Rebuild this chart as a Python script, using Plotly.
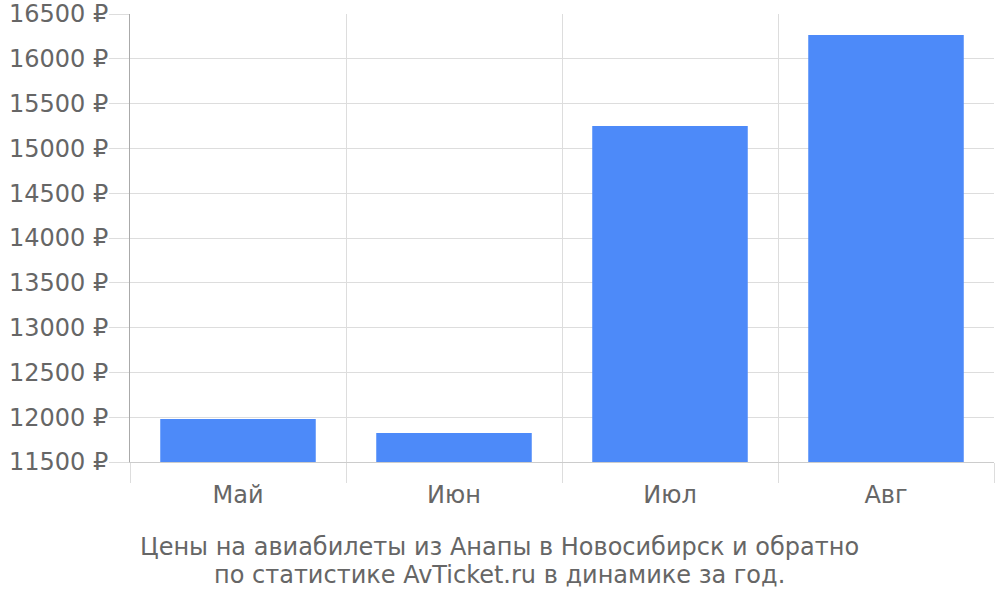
import plotly.graph_objects as go

months = ["Май", "Июн", "Июл", "Авг"]
prices = [11980, 11825, 15250, 16265]
tick_vals = [11500, 12000, 12500, 13000, 13500, 14000, 14500, 15000, 15500, 16000, 16500]
tick_text = [f"{v} ₽" for v in tick_vals]
title_lines = ["Цены на авиабилеты из Анапы в Новосибирск и обратно",
               "по статистике AvTicket.ru в динамике за год."]

FS = 24
fig = go.Figure()
fig.add_trace(go.Bar(x=months, y=prices, marker=dict(color="#4d8af9", line=dict(width=0)),
                     width=0.72))

fig.update_layout(
    width=1000, height=600,
    margin=dict(l=130, r=6, t=14, b=138),
    plot_bgcolor="white", paper_bgcolor="white",
    font=dict(family="DejaVu Sans", size=FS, color="#666666"),
    showlegend=False,
    bargap=0.28,
)
fig.update_yaxes(
    range=[11500, 16500.5], tickvals=tick_vals, ticktext=tick_text,
    showgrid=True, gridcolor="#dddddd", gridwidth=1,
    ticks="outside", ticklen=20, tickcolor="#dddddd",
    showline=True, linecolor="#aaaaaa", linewidth=1,
    zeroline=False, tickfont=dict(size=FS, color="#666666"),
    automargin=False, ticklabelstandoff=-4, ticklabeloverflow="allow",
)
fig.update_xaxes(
    tickson="boundaries", showgrid=True, gridcolor="#dddddd", gridwidth=1,
    ticks="outside", ticklen=20, tickcolor="#dddddd",
    showline=True, linecolor="#cccccc", linewidth=1,
    tickfont=dict(size=FS, color="#666666"),
    automargin=False, ticklabelstandoff=11,
)
ys = [-0.19, -0.252]
for line, yv in zip(title_lines, ys):
    fig.add_annotation(
        text=line, xref="paper", yref="paper",
        x=0.428, y=yv, xanchor="center", yanchor="middle", showarrow=False,
        font=dict(family="DejaVu Sans", size=FS, color="#666666"), align="center",
    )
fig.write_html("out.html", config={"displayModeBar": False},
               post_script="document.body.style.margin='0';document.body.style.overflow='hidden';")
